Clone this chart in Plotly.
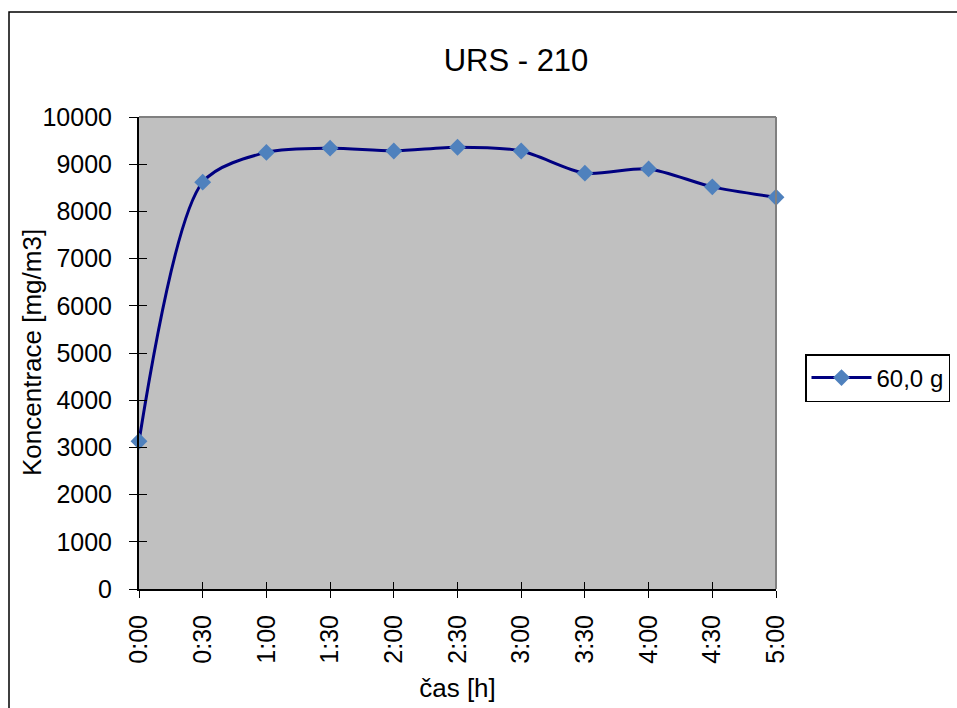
import plotly.graph_objects as go

# Concentration over time for a 60,0 g sample
time_labels = ["0:00", "0:30", "1:00", "1:30", "2:00", "2:30",
               "3:00", "3:30", "4:00", "4:30", "5:00"]
concentration = [3130, 8620, 9250, 9340, 9280, 9360, 9280, 8810, 8900, 8520, 8300]
series_name = "60,0 g"
y_ticks = list(range(0, 10001, 1000))
y_tick_text = [str(v) for v in y_ticks]

x_pos = list(range(len(time_labels)))

fig = go.Figure()
fig.add_trace(go.Scatter(
    x=x_pos,
    y=concentration,
    mode="lines+markers",
    name=series_name,
    line=dict(color="#000080", width=3, shape="spline", smoothing=0.8),
    marker=dict(symbol="diamond", size=13, color="#4F81BD"),
    cliponaxis=False,
))

font_family = "Liberation Sans, Arial, sans-serif"

common_axis = dict(showgrid=False, zeroline=False, tickcolor="black")

fig.update_layout(
    width=957,
    height=708,
    margin=dict(l=139, r=181, t=117, b=119, autoexpand=False),
    paper_bgcolor="white",
    plot_bgcolor="#C0C0C0",
    font=dict(family=font_family, size=25, color="black"),
    title=dict(text="URS - 210", x=516 / 957, xanchor="center",
               y=1 - 60 / 708, yanchor="middle",
               font=dict(size=31, family=font_family)),
    showlegend=True,
    legend=dict(
        x=(805 - 139) / 637, xanchor="left",
        y=(589 - 378) / 472, yanchor="middle",
        bordercolor="black", borderwidth=1.5,
        bgcolor="white",
        font=dict(size=24),
        itemwidth=60,
    ),
    xaxis=dict(
        range=[0, len(time_labels) - 1],
        tickmode="array",
        tickvals=x_pos,
        ticktext=time_labels,
        tickangle=-90,
        ticks="outside",
        ticklen=7,
        ticklabelstandoff=7,
        showline=True,
        linecolor="black",
        linewidth=2,
        automargin=False,
        title=dict(text="čas [h]", standoff=16, font=dict(size=26)),
        tickfont=dict(size=25),
        **common_axis,
    ),
    yaxis=dict(
        range=[0, 10000],
        tickmode="array",
        tickvals=y_ticks,
        ticktext=y_tick_text,
        ticks="outside",
        ticklen=8,
        ticklabelstandoff=12,
        showline=True,
        linecolor="black",
        linewidth=2,
        automargin=False,
        tickfont=dict(size=25),
        **common_axis,
    ),
    # overlay axes carrying the inner half of the crossing tick marks
    xaxis2=dict(
        overlaying="x", matches="x", side="bottom", anchor="y",
        tickmode="array", tickvals=x_pos, ticks="inside", ticklen=7,
        showticklabels=False, showline=False, automargin=False, **common_axis,
    ),
    yaxis2=dict(
        overlaying="y", matches="y", side="left", anchor="x",
        tickmode="array", tickvals=y_ticks, ticks="inside", ticklen=8,
        showticklabels=False, showline=False, automargin=False, **common_axis,
    ),
    annotations=[
        # y-axis title, placed close to the tick labels
        dict(text="Koncentrace [mg/m3]", textangle=-90,
             xref="paper", yref="paper",
             x=(32 - 139) / 637, y=(589 - 353) / 472,
             xanchor="center", yanchor="middle", showarrow=False,
             font=dict(size=26)),
    ],
    shapes=[
        # grey frame on top and right of the plot area
        dict(type="line", xref="paper", yref="paper", x0=0, y0=1, x1=1, y1=1,
             line=dict(color="#808080", width=2), layer="above"),
        dict(type="line", xref="paper", yref="paper", x0=1, y0=0, x1=1, y1=1,
             line=dict(color="#808080", width=2), layer="above"),
        # chart area border
        dict(type="rect", xref="paper", yref="paper",
             x0=(9 - 139) / 637, x1=(1000 - 139) / 637,
             y0=(589 - 760) / 472, y1=(589 - 12) / 472,
             line=dict(color="black", width=1.5), layer="below"),
    ],
)

# invisible trace that activates the overlay axes
fig.add_trace(go.Scatter(x=[x_pos[0]], y=[y_ticks[0]], xaxis="x2", yaxis="y2",
                         mode="markers", marker=dict(opacity=0),
                         showlegend=False, hoverinfo="skip"))

fig.write_html("out.html")
